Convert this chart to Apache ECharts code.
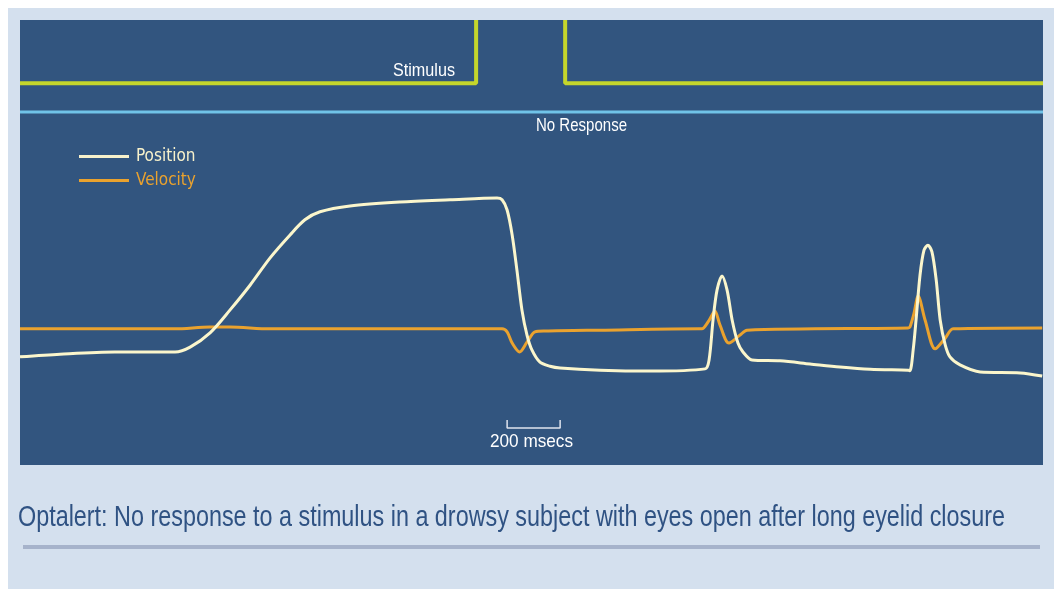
<!DOCTYPE html>
<html>
<head>
<meta charset="utf-8">
<script src="https://cdn.jsdelivr.net/npm/echarts@6/dist/echarts.min.js"></script>
<style>
  html, body { margin: 0; padding: 0; background: #ffffff; }
  #chart-no-response { width: 1057px; height: 589px; }
</style>
</head>
<body>
<div id="chart-no-response"></div>
<script>
// time in msecs, trace values in arbitrary units (0 = bottom of panel, 100 = top)
var positionData = [
  [0, 24.3], [151, 24.9], [358, 25.4], [585, 25.4], [642, 26.5], [717, 29.7],
  [792, 34.8], [868, 40.4], [943, 46.5], [1019, 51.7], [1075, 55.1], [1132, 56.9],
  [1245, 58.2], [1434, 59.1], [1623, 59.6], [1800, 60.0], [1819, 59.6], [1838, 57.3],
  [1857, 51.7], [1875, 43.8], [1894, 34.8], [1913, 29.2], [1932, 25.8], [1962, 23.1],
  [2000, 22.2], [2038, 21.8], [2189, 21.3], [2377, 21.1], [2585, 21.6], [2600, 23.6],
  [2615, 32.6], [2630, 39.3], [2649, 42.5], [2668, 39.3], [2687, 32.6], [2709, 27.4],
  [2728, 25.4], [2762, 23.6], [2868, 23.4], [2981, 22.7], [3094, 22.0], [3208, 21.5],
  [3351, 21.3], [3358, 21.2], [3370, 25.8], [3381, 32.6], [3396, 42.7], [3411, 48.3],
  [3426, 49.4], [3441, 47.9], [3457, 41.6], [3472, 32.6], [3491, 27.0], [3509, 24.3],
  [3547, 22.5], [3623, 20.9], [3774, 20.7], [3857, 20.0]
];
var velocityData = [
  [0, 30.6], [585, 30.6], [717, 31.0], [792, 31.0], [943, 30.6], [1800, 30.6],
  [1819, 30.6], [1838, 29.9], [1857, 27.4], [1885, 25.4], [1913, 27.6], [1943, 29.9],
  [1981, 30.1], [2189, 30.3], [2566, 30.6], [2573, 30.6], [2600, 32.5], [2622, 34.6],
  [2641, 31.5], [2675, 27.4], [2717, 29.2], [2743, 30.3], [3351, 30.8], [3358, 31.0],
  [3373, 34.0], [3389, 38.0], [3415, 32.6], [3453, 26.1], [3491, 28.5], [3521, 30.6],
  [3857, 30.8]
];
var stimulusBefore = [[0, 85.8], [1721, 85.8], [1721, 100]];
var stimulusAfter = [[2057, 100], [2057, 85.8], [3860, 85.8]];
var responseData = [[0, 79.3], [3860, 79.3]];
var scaleBarData = [[1838, 10.1], [1838, 8.3], [2038, 8.3], [2038, 10.1]];
var scaleLabel = "200 msecs";
var caption = "Optalert: No response to a stimulus in a drowsy subject with eyes open after long eyelid closure";

var baseFont = "'Liberation Sans', Arial, sans-serif";
var legendFont = "'DejaVu Sans Condensed', 'Liberation Sans', sans-serif";

// squeeze Liberation Sans horizontally to look like the condensed face of the original
var measureCtx = document.createElement("canvas").getContext("2d");
function squeeze(text, size, width) {
  measureCtx.font = size + "px " + baseFont;
  return width / measureCtx.measureText(text).width;
}
function label(text, x, y, size, width, align, color) {
  return {
    type: "text", x: x, y: y, z: 10,
    scaleX: squeeze(text, size, width),
    style: {
      text: text, fill: color, font: size + "px " + baseFont,
      textAlign: align, textVerticalAlign: "middle",
    },
  };
}

var chartInstance = echarts.init(document.getElementById("chart-no-response"));
chartInstance.setOption({
  animation: false,
  backgroundColor: "#d4e0ee",
  grid: {
    left: 20,
    right: 14,
    top: 20,
    bottom: 124,
    show: true,
    backgroundColor: "#32557f",
    borderWidth: 0,
  },
  legend: {
    left: 79,
    top: 148,
    padding: 0,
    orient: "vertical",
    itemGap: 7,
    itemWidth: 50,
    itemHeight: 3,
    icon: "rect",
    textStyle: { fontSize: 17, fontFamily: legendFont, padding: [0, 0, 0, 2] },
    data: [
      { name: "Position", textStyle: { color: "#f7f1cb" } },
      { name: "Velocity", textStyle: { color: "#eaa22e" } },
    ],
  },
  xAxis: { type: "value", min: 0, max: 3860, show: false },
  yAxis: { type: "value", min: 0, max: 100, show: false },
  graphic: [
    // white page margin round the light panel
    { type: "rect", shape: { x: 0, y: 0, width: 1057, height: 8 }, style: { fill: "#ffffff" } },
    { type: "rect", shape: { x: 0, y: 0, width: 8, height: 589 }, style: { fill: "#ffffff" } },
    { type: "rect", shape: { x: 1054, y: 0, width: 3, height: 589 }, style: { fill: "#ffffff" } },
    { type: "rect", shape: { x: 23, y: 545, width: 1017, height: 4 }, style: { fill: "#a6b3cb" } },
    label("Stimulus", 455, 70.5, 19, 62, "right", "#ffffff"),
    label("No Response", 581.5, 125.5, 19, 91, "center", "#ffffff"),
    label(scaleLabel, 531.5, 441.5, 19, 83, "center", "#ffffff"),
    label(caption, 18, 517.5, 30, 987, "left", "#2f5283"),
  ],
  series: [
    {
      name: "Stimulus",
      type: "line",
      data: stimulusBefore,
      symbol: "none",
      lineStyle: { color: "#c5d62b", width: 4 },
    },
    {
      name: "Stimulus",
      type: "line",
      data: stimulusAfter,
      symbol: "none",
      lineStyle: { color: "#c5d62b", width: 4 },
    },
    {
      name: "No Response",
      type: "line",
      data: responseData,
      symbol: "none",
      lineStyle: { color: "#70c3e8", width: 3 },
    },
    {
      name: "Scale",
      type: "line",
      data: scaleBarData,
      symbol: "none",
      lineStyle: { color: "#dfe4ee", width: 1.5 },
    },
    {
      name: "Velocity",
      type: "line",
      data: velocityData,
      symbol: "none",
      smooth: 0.3,
      color: "#eaa22e",
      itemStyle: { color: "#eaa22e" },
      lineStyle: { color: "#eaa22e", width: 3 },
    },
    {
      name: "Position",
      type: "line",
      data: positionData,
      symbol: "none",
      smooth: 0.3,
      color: "#f7f1cb",
      itemStyle: { color: "#f7f1cb" },
      lineStyle: { color: "#fbf6cc", width: 3 },
    },
  ],
});
</script>
</body>
</html>
